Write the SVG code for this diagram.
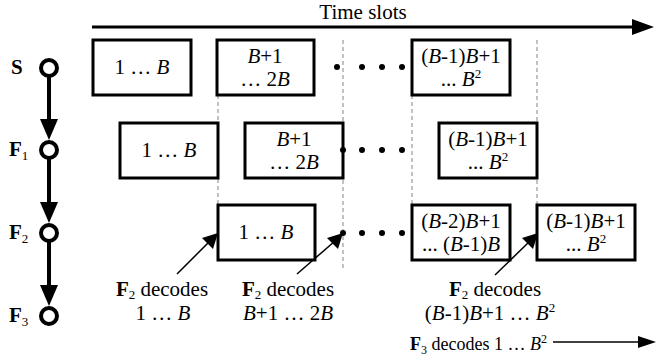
<svg xmlns="http://www.w3.org/2000/svg" width="659" height="363" viewBox="0 0 659 363">
  <style>
    text { font-family: "Liberation Serif", "Times New Roman", serif; font-size: 21px; fill: #000; }
    text.sm { font-size: 18px; }
    .c { text-anchor: middle; }
    .b { font-weight: bold; }
    .i { font-style: italic; }
    .sub { font-size: 13px; font-weight: normal; }
    .sm .sub { font-size: 12px; }
    .box { fill: #fff; stroke: #000; stroke-width: 3; }
    .dash { stroke: #999; stroke-width: 1.2; stroke-dasharray: 4 3; fill: none; }
    .chain { stroke: #000; stroke-width: 4; fill: none; }
    .node { fill: #fff; stroke: #000; stroke-width: 4; }
    .thin { stroke: #000; stroke-width: 1.5; fill: none; }
    .head { fill: #000; }
  </style>

  <!-- time axis -->
  <g id="time-axis">
    <text class="c" x="363" y="19">Time slots</text>
    <line x1="92" y1="27" x2="636" y2="27" stroke="#000" stroke-width="3"/>
    <polygon class="head" points="632,19 654,27 632,35"/>
  </g>

  <!-- slot boundaries -->
  <g id="slot-guides">
    <line class="dash" x1="218" y1="95" x2="218" y2="205"/>
    <line class="dash" x1="343" y1="40" x2="343" y2="270"/>
    <line class="dash" x1="412" y1="95" x2="412" y2="205"/>
    <line class="dash" x1="537" y1="40" x2="537" y2="205"/>
  </g>

  <!-- relay chain S -> F1 -> F2 -> F3 and pointers -->
  <g id="connectors">
    <line class="chain" x1="49" y1="76" x2="49" y2="124"/>
    <polygon class="head" points="40,119 58,119 49,140"/>
    <line class="chain" x1="49" y1="158" x2="49" y2="207"/>
    <polygon class="head" points="40,202 58,202 49,223"/>
    <line class="chain" x1="49" y1="241" x2="49" y2="290"/>
    <polygon class="head" points="40,285 58,285 49,306"/>

    <!-- decode pointers -->
    <line class="thin" x1="177" y1="274" x2="210" y2="241"/>
    <polygon class="head" points="218,233 213,249 202,238"/>
    <line class="thin" x1="297" y1="274" x2="335" y2="241"/>
    <polygon class="head" points="343,233 338,249 327,238"/>
    <line class="thin" x1="495" y1="275" x2="530" y2="241"/>
    <polygon class="head" points="538,233 533,249 522,238"/>

    <!-- F3 decoding arrow -->
    <line x1="553" y1="342" x2="642" y2="342" stroke="#000" stroke-width="1.5"/>
    <polygon class="head" points="638,336 656,342 638,348"/>
  </g>

  <g id="node-S">
    <circle class="node" cx="49" cy="68" r="8"/>
    <text class="b" x="11" y="74">S</text>
  </g>
  <g id="node-F1">
    <circle class="node" cx="49" cy="150" r="8"/>
    <text class="b" x="9" y="156">F<tspan class="sub" dy="4">1</tspan></text>
  </g>
  <g id="node-F2">
    <circle class="node" cx="49" cy="233" r="8"/>
    <text class="b" x="9" y="239">F<tspan class="sub" dy="4">2</tspan></text>
  </g>
  <g id="node-F3">
    <circle class="node" cx="49" cy="316" r="8"/>
    <text class="b" x="9" y="322">F<tspan class="sub" dy="4">3</tspan></text>
  </g>

  <!-- row S -->
  <g id="s-slot1">
    <rect class="box" x="93" y="40" width="98" height="55"/>
    <text class="c" x="142" y="74">1 … <tspan class="i">B</tspan></text>
  </g>
  <g id="s-slot2">
    <rect class="box" x="217" y="40" width="97" height="55"/>
    <text class="c" x="265" y="63"><tspan class="i">B</tspan>+1</text>
    <text class="c" x="265" y="86">… 2<tspan class="i">B</tspan></text>
  </g>
  <g id="s-dots">
    <circle cx="337" cy="67" r="3"/>
    <circle cx="362" cy="67" r="3"/>
    <circle cx="382" cy="67" r="3"/>
    <circle cx="402" cy="67" r="3"/>
  </g>
  <g id="s-slotB">
    <rect class="box" x="412" y="40" width="98" height="55"/>
    <text class="c" x="461" y="63">(<tspan class="i">B</tspan>-1)<tspan class="i">B</tspan>+1</text>
    <text class="c" x="461" y="86">... <tspan class="i">B</tspan><tspan class="sub" dy="-8">2</tspan></text>
  </g>

  <!-- row F1 -->
  <g id="f1-slot1">
    <rect class="box" x="120" y="123" width="98" height="55"/>
    <text class="c" x="169" y="157">1 … <tspan class="i">B</tspan></text>
  </g>
  <g id="f1-slot2">
    <rect class="box" x="245" y="123" width="98" height="55"/>
    <text class="c" x="294" y="146"><tspan class="i">B</tspan>+1</text>
    <text class="c" x="294" y="169">… 2<tspan class="i">B</tspan></text>
  </g>
  <g id="f1-dots">
    <circle cx="343" cy="150" r="3"/>
    <circle cx="362" cy="150" r="3"/>
    <circle cx="382" cy="150" r="3"/>
    <circle cx="402" cy="150" r="3"/>
  </g>
  <g id="f1-slotB">
    <rect class="box" x="439" y="123" width="98" height="55"/>
    <text class="c" x="488" y="146">(<tspan class="i">B</tspan>-1)<tspan class="i">B</tspan>+1</text>
    <text class="c" x="488" y="169">... <tspan class="i">B</tspan><tspan class="sub" dy="-8">2</tspan></text>
  </g>

  <!-- row F2 -->
  <g id="f2-slot1">
    <rect class="box" x="218" y="205" width="97" height="55"/>
    <text class="c" x="266" y="239">1 … <tspan class="i">B</tspan></text>
  </g>
  <g id="f2-dots">
    <circle cx="343" cy="233" r="3"/>
    <circle cx="362" cy="233" r="3"/>
    <circle cx="382" cy="233" r="3"/>
    <circle cx="402" cy="233" r="3"/>
  </g>
  <g id="f2-slotB-1">
    <rect class="box" x="412" y="205" width="98" height="55"/>
    <text class="c" x="461" y="228">(<tspan class="i">B</tspan>-2)<tspan class="i">B</tspan>+1</text>
    <text class="c" x="461" y="251">... (<tspan class="i">B</tspan>-1)<tspan class="i">B</tspan></text>
  </g>
  <g id="f2-slotB">
    <rect class="box" x="537" y="205" width="98" height="55"/>
    <text class="c" x="586" y="228">(<tspan class="i">B</tspan>-1)<tspan class="i">B</tspan>+1</text>
    <text class="c" x="586" y="251">... <tspan class="i">B</tspan><tspan class="sub" dy="-8">2</tspan></text>
  </g>

  <!-- decode notes -->
  <g id="note-1">
    <text class="c" x="162" y="296"><tspan class="b">F</tspan><tspan class="sub" dy="3">2</tspan><tspan dy="-3"> decodes</tspan></text>
    <text class="c" x="163" y="320">1 … <tspan class="i">B</tspan></text>
  </g>
  <g id="note-2">
    <text class="c" x="288" y="296"><tspan class="b">F</tspan><tspan class="sub" dy="3">2</tspan><tspan dy="-3"> decodes</tspan></text>
    <text class="c" x="288" y="320"><tspan class="i">B</tspan>+1 … 2<tspan class="i">B</tspan></text>
  </g>
  <g id="note-3">
    <text class="c" x="495" y="296"><tspan class="b">F</tspan><tspan class="sub" dy="3">2</tspan><tspan dy="-3"> decodes</tspan></text>
    <text class="c" x="490" y="320">(<tspan class="i">B</tspan>-1)<tspan class="i">B</tspan>+1 … <tspan class="i">B</tspan><tspan class="sub" dy="-8">2</tspan></text>
  </g>
  <g id="note-4">
    <text class="sm" x="410" y="350"><tspan class="b">F</tspan><tspan class="sub" dy="4">3</tspan><tspan dy="-4"> decodes 1 … </tspan><tspan class="i">B</tspan><tspan class="sub" dy="-7">2</tspan></text>
  </g>
</svg>
